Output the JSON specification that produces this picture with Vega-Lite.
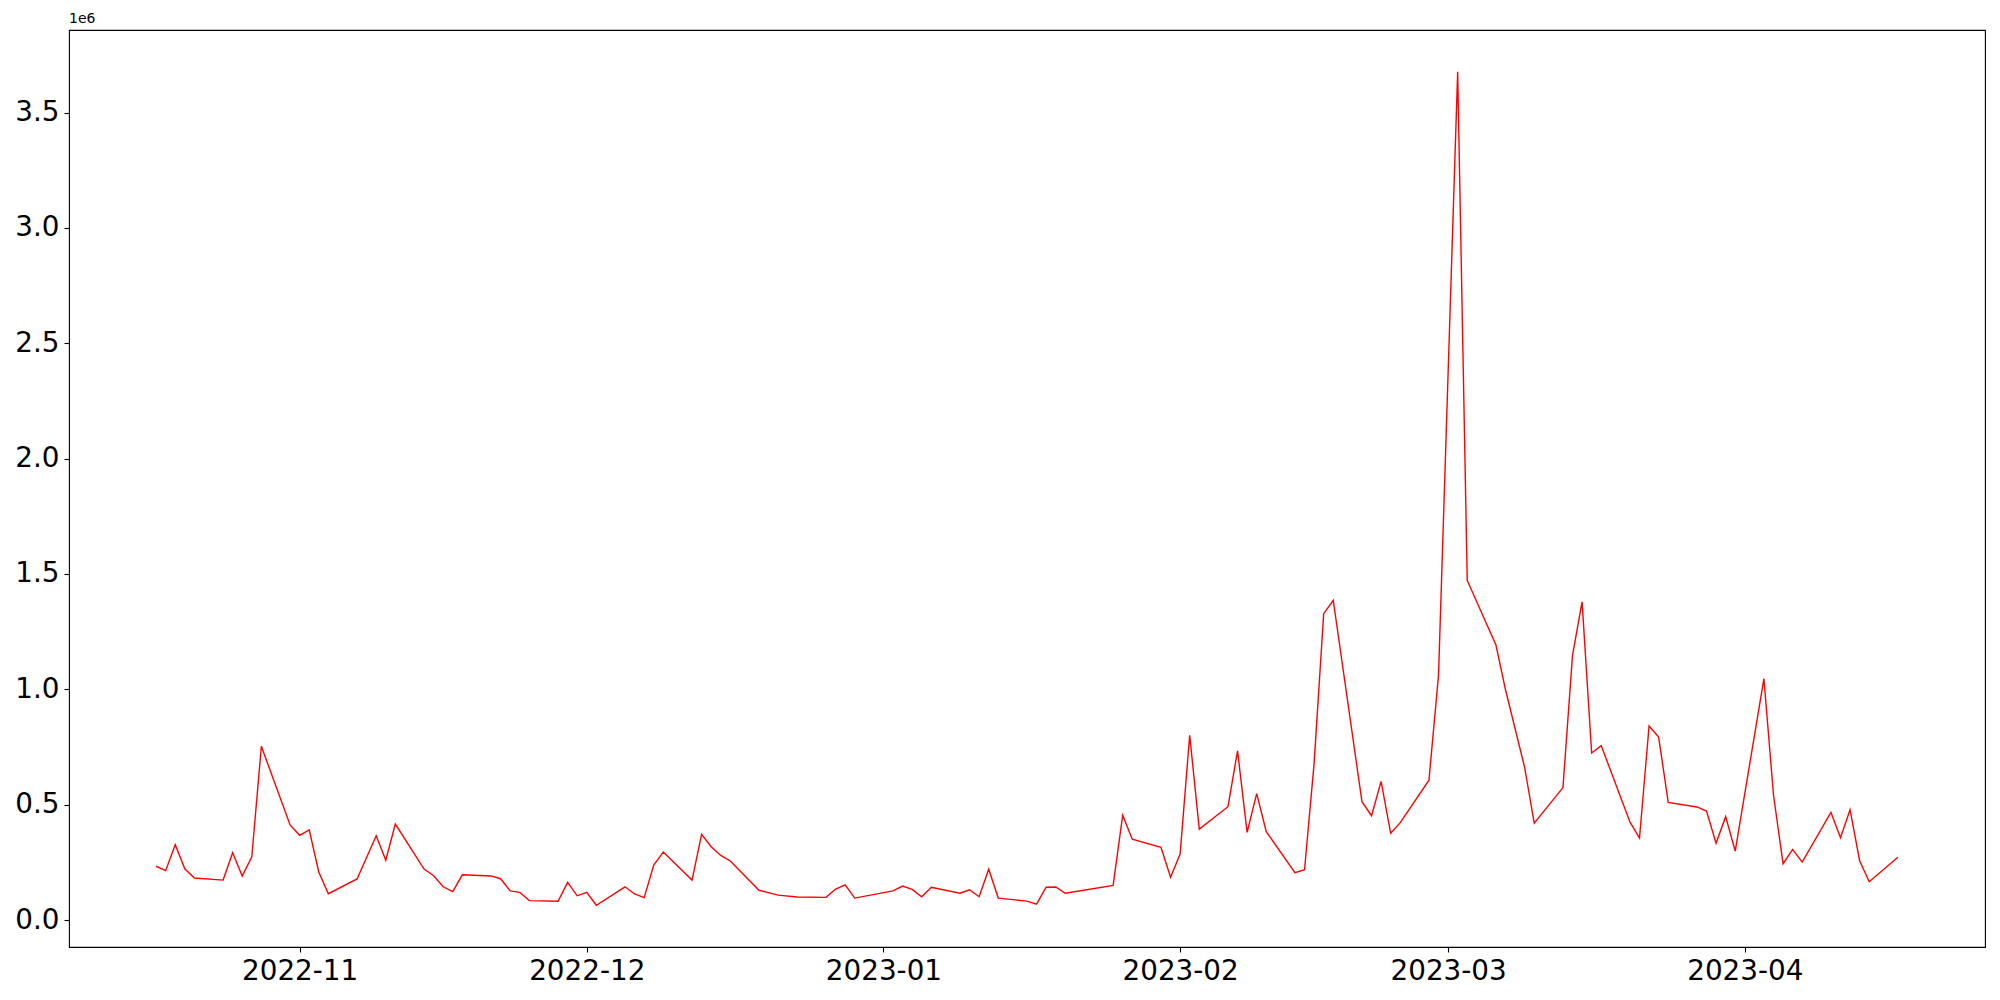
{
  "$schema": "https://vega.github.io/schema/vega-lite/v6.json",
  "width": 1916,
  "height": 917,
  "autosize": {"type": "none"},
  "padding": {"left": 69, "top": 30, "right": 15, "bottom": 53},
  "background": "white",
  "title": {"text": "1e6", "anchor": "start", "frame": "group", "fontSize": 14, "font": "DejaVu Sans", "fontWeight": "normal", "color": "black", "offset": 4},
  "config": {
    "view": {"stroke": "black", "strokeWidth": 1.1},
    "axis": {"domain": false, "grid": false, "tickColor": "black", "tickWidth": 1.1, "tickSize": 5, "labelFont": "DejaVu Sans", "labelFontSize": 27.8, "labelColor": "black", "title": null}
  },
  "data": {"values": [
    {"date": "2022-10-17", "value": 233000},
    {"date": "2022-10-18", "value": 214000},
    {"date": "2022-10-19", "value": 326000},
    {"date": "2022-10-20", "value": 222000},
    {"date": "2022-10-21", "value": 182000},
    {"date": "2022-10-24", "value": 173000},
    {"date": "2022-10-25", "value": 292000},
    {"date": "2022-10-26", "value": 191000},
    {"date": "2022-10-27", "value": 274000},
    {"date": "2022-10-28", "value": 753000},
    {"date": "2022-10-31", "value": 412000},
    {"date": "2022-11-01", "value": 367000},
    {"date": "2022-11-02", "value": 391000},
    {"date": "2022-11-03", "value": 208000},
    {"date": "2022-11-04", "value": 114000},
    {"date": "2022-11-07", "value": 178000},
    {"date": "2022-11-09", "value": 365000},
    {"date": "2022-11-10", "value": 259000},
    {"date": "2022-11-11", "value": 416000},
    {"date": "2022-11-14", "value": 221000},
    {"date": "2022-11-15", "value": 192000},
    {"date": "2022-11-16", "value": 144000},
    {"date": "2022-11-17", "value": 123000},
    {"date": "2022-11-18", "value": 196000},
    {"date": "2022-11-21", "value": 191000},
    {"date": "2022-11-22", "value": 179000},
    {"date": "2022-11-23", "value": 126000},
    {"date": "2022-11-24", "value": 120000},
    {"date": "2022-11-25", "value": 84000},
    {"date": "2022-11-28", "value": 81000},
    {"date": "2022-11-29", "value": 163000},
    {"date": "2022-11-30", "value": 105000},
    {"date": "2022-12-01", "value": 120000},
    {"date": "2022-12-02", "value": 64000},
    {"date": "2022-12-05", "value": 144000},
    {"date": "2022-12-06", "value": 113000},
    {"date": "2022-12-07", "value": 97000},
    {"date": "2022-12-08", "value": 238000},
    {"date": "2022-12-09", "value": 295000},
    {"date": "2022-12-12", "value": 173000},
    {"date": "2022-12-13", "value": 371000},
    {"date": "2022-12-14", "value": 318000},
    {"date": "2022-12-15", "value": 280000},
    {"date": "2022-12-16", "value": 256000},
    {"date": "2022-12-19", "value": 129000},
    {"date": "2022-12-21", "value": 108000},
    {"date": "2022-12-23", "value": 100000},
    {"date": "2022-12-26", "value": 98000},
    {"date": "2022-12-27", "value": 134000},
    {"date": "2022-12-28", "value": 152000},
    {"date": "2022-12-29", "value": 95000},
    {"date": "2023-01-02", "value": 126000},
    {"date": "2023-01-03", "value": 147000},
    {"date": "2023-01-04", "value": 133000},
    {"date": "2023-01-05", "value": 101000},
    {"date": "2023-01-06", "value": 142000},
    {"date": "2023-01-09", "value": 116000},
    {"date": "2023-01-10", "value": 131000},
    {"date": "2023-01-11", "value": 101000},
    {"date": "2023-01-12", "value": 220000},
    {"date": "2023-01-13", "value": 95000},
    {"date": "2023-01-16", "value": 82000},
    {"date": "2023-01-17", "value": 69000},
    {"date": "2023-01-18", "value": 142000},
    {"date": "2023-01-19", "value": 143000},
    {"date": "2023-01-20", "value": 116000},
    {"date": "2023-01-25", "value": 150000},
    {"date": "2023-01-26", "value": 454000},
    {"date": "2023-01-27", "value": 350000},
    {"date": "2023-01-30", "value": 315000},
    {"date": "2023-01-31", "value": 185000},
    {"date": "2023-02-01", "value": 286000},
    {"date": "2023-02-02", "value": 801000},
    {"date": "2023-02-03", "value": 394000},
    {"date": "2023-02-06", "value": 491000},
    {"date": "2023-02-07", "value": 733000},
    {"date": "2023-02-08", "value": 380000},
    {"date": "2023-02-09", "value": 548000},
    {"date": "2023-02-10", "value": 383000},
    {"date": "2023-02-13", "value": 205000},
    {"date": "2023-02-14", "value": 218000},
    {"date": "2023-02-15", "value": 679000},
    {"date": "2023-02-16", "value": 1328000},
    {"date": "2023-02-17", "value": 1386000},
    {"date": "2023-02-20", "value": 513000},
    {"date": "2023-02-21", "value": 452000},
    {"date": "2023-02-22", "value": 601000},
    {"date": "2023-02-23", "value": 376000},
    {"date": "2023-02-24", "value": 422000},
    {"date": "2023-02-27", "value": 606000},
    {"date": "2023-02-28", "value": 1061000},
    {"date": "2023-03-02", "value": 3677000},
    {"date": "2023-03-03", "value": 1472000},
    {"date": "2023-03-06", "value": 1192000},
    {"date": "2023-03-07", "value": 998000},
    {"date": "2023-03-09", "value": 661000},
    {"date": "2023-03-10", "value": 420000},
    {"date": "2023-03-13", "value": 574000},
    {"date": "2023-03-14", "value": 1147000},
    {"date": "2023-03-15", "value": 1379000},
    {"date": "2023-03-16", "value": 724000},
    {"date": "2023-03-17", "value": 756000},
    {"date": "2023-03-20", "value": 425000},
    {"date": "2023-03-21", "value": 355000},
    {"date": "2023-03-22", "value": 841000},
    {"date": "2023-03-23", "value": 793000},
    {"date": "2023-03-24", "value": 510000},
    {"date": "2023-03-27", "value": 490000},
    {"date": "2023-03-28", "value": 472000},
    {"date": "2023-03-29", "value": 333000},
    {"date": "2023-03-30", "value": 448000},
    {"date": "2023-03-31", "value": 299000},
    {"date": "2023-04-03", "value": 1046000},
    {"date": "2023-04-04", "value": 542000},
    {"date": "2023-04-05", "value": 244000},
    {"date": "2023-04-06", "value": 306000},
    {"date": "2023-04-07", "value": 251000},
    {"date": "2023-04-10", "value": 467000},
    {"date": "2023-04-11", "value": 357000},
    {"date": "2023-04-12", "value": 478000},
    {"date": "2023-04-13", "value": 257000},
    {"date": "2023-04-14", "value": 166000},
    {"date": "2023-04-17", "value": 272000}
  ]},
  "mark": {"type": "line", "color": "#ff0000", "strokeWidth": 1.4, "interpolate": "linear"},
  "encoding": {
    "x": {
      "field": "date", "type": "temporal",
      "scale": {"type": "utc", "domain": [
        {"year": 2022, "month": 10, "date": 7, "hours": 21, "minutes": 36, "utc": true},
        {"year": 2023, "month": 4, "date": 26, "hours": 2, "minutes": 24, "utc": true}
      ]},
      "axis": {
        "values": [
          {"year": 2022, "month": 11, "date": 1, "utc": true},
          {"year": 2022, "month": 12, "date": 1, "utc": true},
          {"year": 2023, "month": 1, "date": 1, "utc": true},
          {"year": 2023, "month": 2, "date": 1, "utc": true},
          {"year": 2023, "month": 3, "date": 1, "utc": true},
          {"year": 2023, "month": 4, "date": 1, "utc": true}
        ],
        "labelExpr": "utcFormat(datum.value, '%Y-%m')", "labelPadding": 5, "labelFlush": false
      }
    },
    "y": {
      "field": "value", "type": "quantitative",
      "scale": {"domain": [-117000, 3858000], "nice": false, "zero": false},
      "axis": {
        "values": [0, 500000, 1000000, 1500000, 2000000, 2500000, 3000000, 3500000],
        "labelExpr": "format(datum.value / 1000000, '.1f')",
        "labelPadding": 5
      }
    }
  }
}
